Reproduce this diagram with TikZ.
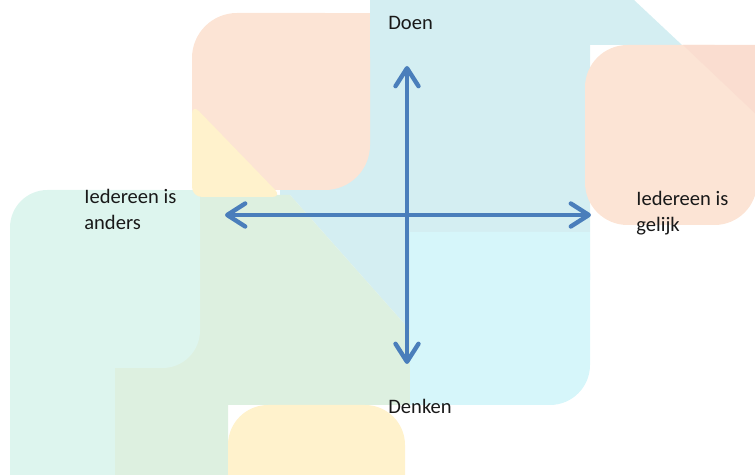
\documentclass[tikz,border=0pt]{standalone}
\usepackage{fontspec}
\setmainfont{Carlito}
\usetikzlibrary{arrows.meta}
\definecolor{peach}{HTML}{FCE4D5}
\definecolor{salmon}{HTML}{FADDD0}
\definecolor{skyband}{HTML}{D4EEF2}
\definecolor{skylow}{HTML}{D6F6FA}
\definecolor{greenish}{HTML}{DDF0E0}
\definecolor{mint}{HTML}{DDF5EE}
\definecolor{butter}{HTML}{FFF2CC}
\definecolor{axisblue}{HTML}{4A7EBB}
\begin{document}
\begin{tikzpicture}[x=0.02cm,y=-0.02cm,
  axis/.style={axisblue,line width=2.5pt,
    {Straight Barb[length=3.6mm,width=4.6mm,line cap=round,line join=round]}-{Straight Barb[length=3.6mm,width=4.6mm,line cap=round,line join=round]}},
  lbl/.style={anchor=base west,inner sep=0pt,align=left,text=black!90,
    font=\fontsize{11.7}{15.3}\selectfont}]
  \useasboundingbox (0,0) rectangle (755,475);
  \clip (0,0) rectangle (755,475);
  % pastel background blocks
  \fill[skyband] (370,0)--(634,0)--(682,45)--(590,45)--(590,280)--(440,280)--(440,364)--(290,195)--(280,195)--(280,100)--(370,100)--cycle;
  \fill[greenish] (150,195)--(290,195)--(440,364)--(450,364)--(450,405)--(228,405)--(228,480)--(115,480)--(115,355)--(150,355)--cycle;
  \fill[mint,rounded corners=0.75cm] (10,190) rectangle (200,368);
  \fill[mint] (10,260) rectangle (115,480);
  \fill[mint] (150,190) rectangle (200,230);
  \fill[butter,rounded corners=0.8cm] (228,405) rectangle (405,520);
  % lower sky block, only its lower right corner round
  \fill[skylow,rounded corners=0.8cm] (410,232) rectangle (590,405);
  \fill[skylow] (410,232) rectangle (590,330);
  \fill[skylow] (410,232) rectangle (540,405);
  \fill[peach,rounded corners=0.9cm] (192,13) rectangle (370,190);
  \fill[peach] (320,13) rectangle (370,60);
  \fill[butter,rounded corners=0.2cm] (192,104)--(192,197)--(282,197)--cycle;
  \fill[peach,rounded corners=0.85cm] (585,45) rectangle (757,225);
  \fill[salmon] (683,45)--(760,45)--(760,118)--cycle;
  % axes
  \coordinate (up) at (407,66);
  \coordinate (down) at (407,364);
  \coordinate (west) at (225,215);
  \coordinate (east) at (591,215);
  \draw[axis] (west) -- (east);
  \draw[axis] (down) -- (up);
  % labels
  \node[lbl] (doen) at (388,30) {Doen};
  \node[lbl] (denken) at (388,414) {Denken};
  \node[lbl] (anders) at (84,230) {Iedereen is\\anders};
  \node[lbl] (gelijk) at (636,232) {Iedereen is\\gelijk};
\end{tikzpicture}
\end{document}
